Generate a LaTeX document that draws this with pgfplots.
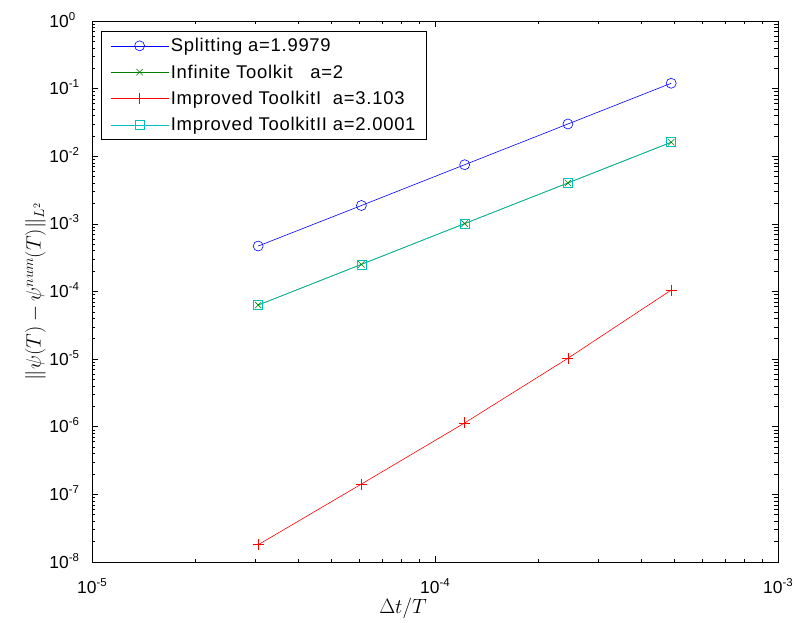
\documentclass[border=0pt]{standalone}
\usepackage{pgfplots}
\pgfplotsset{compat=1.18}
\usepackage{fontspec}
\setmainfont{Liberation Sans}
\usetikzlibrary{calc}

\definecolor{mblue}{rgb}{0,0,1}
\definecolor{mgreen}{rgb}{0,0.5,0}
\definecolor{mred}{rgb}{1,0,0}
\definecolor{mcyan}{rgb}{0,0.75,0.75}

% MATLAB style log labels: "10" with a raised exponent
\newcommand{\xtl}[1]{10\smash{\raisebox{7bp}{\fontsize{11.5}{11.5}\selectfont #1}}}
\newcommand{\ytl}[1]{10\rlap{\smash{\raisebox{7bp}{\fontsize{11.5}{11.5}\selectfont #1}}}}

\begin{document}
\begin{tikzpicture}
\begin{loglogaxis}[
  scale only axis,
  width=686bp, height=541bp,
  xmin=1e-5, xmax=1e-3,
  ymin=1e-8, ymax=1,
  axis line style={line width=0.8bp},
  every tick/.style={black, line width=0.6bp},
  major tick length=6bp, minor tick length=3.5bp,
  xtick={1e-5,1e-4,1e-3},
  xticklabels={\xtl{-5},\xtl{-4},\xtl{-3}},
  ytick={1e-8,1e-7,1e-6,1e-5,1e-4,1e-3,1e-2,1e-1,1},
  yticklabels={\ytl{-8},\ytl{-7},\ytl{-6},\ytl{-5},\ytl{-4},\ytl{-3},\ytl{-2},\ytl{-1},\ytl{0}},
  xticklabel style={font=\fontsize{17.5}{19}\selectfont, inner sep=0pt, anchor=north, yshift=-19bp},
  yticklabel style={font=\fontsize{17.5}{19}\selectfont, inner sep=0pt, anchor=east, xshift=-23bp},
  xlabel={$\Delta t/T$},
  ylabel={$\|\psi(T)-\psi^{num}(T)\|_{L^2}$},
  label style={font=\fontsize{20.5}{24}\selectfont},
  xlabel style={font=\fontsize{22}{26}\selectfont, xshift=-32bp, yshift=-1bp},
  legend style={at={(0.013,0.9815)}, anchor=north west, draw=black,
    line width=0.8bp,
    font=\fontsize{18.5}{21}\selectfont\addfontfeatures{LetterSpace=4},
    inner xsep=9bp, inner ysep=5bp, row sep=7.5bp},
  legend cell align=left,
  legend image code/.code={\draw[mark repeat=2,mark phase=2] plot coordinates {(0bp,0bp) (29bp,0bp) (58bp,0bp)};},
]
\addplot[mblue, line width=0.6bp, mark=o, mark size=5bp] coordinates {
  (3.0518e-5,4.7e-4) (6.1035e-5,1.87e-3) (1.2207e-4,7.5e-3) (2.4414e-4,0.030) (4.8828e-4,0.12)};
\addlegendentry{Splitting a=1.9979}
\addplot[mgreen, line width=0.6bp, mark=x, mark size=4.5bp] coordinates {
  (3.0518e-5,6.3e-5) (6.1035e-5,2.52e-4) (1.2207e-4,1.01e-3) (2.4414e-4,4.03e-3) (4.8828e-4,0.0161)};
\addlegendentry{Infinite Toolkit\ \ \ a=2}
\addplot[mred, line width=0.6bp, mark=+, mark size=5.5bp] coordinates {
  (3.0518e-5,1.8e-8) (6.1035e-5,1.42e-7) (1.2207e-4,1.14e-6) (2.4414e-4,1.03e-5) (4.8828e-4,1.05e-4)};
\addlegendentry{Improved ToolkitI\ \ a=3.103}
\addplot[mcyan, line width=0.6bp, mark=square, mark size=4.5bp] coordinates {
  (3.0518e-5,6.3e-5) (6.1035e-5,2.52e-4) (1.2207e-4,1.01e-3) (2.4414e-4,4.03e-3) (4.8828e-4,0.0161)};
\addlegendentry{Improved ToolkitII a=2.0001}
\end{loglogaxis}
\path ($(current axis.south west)+(-92bp,-56bp)$) rectangle ($(current axis.north east)+(20bp,21bp)$);
\end{tikzpicture}
\end{document}
